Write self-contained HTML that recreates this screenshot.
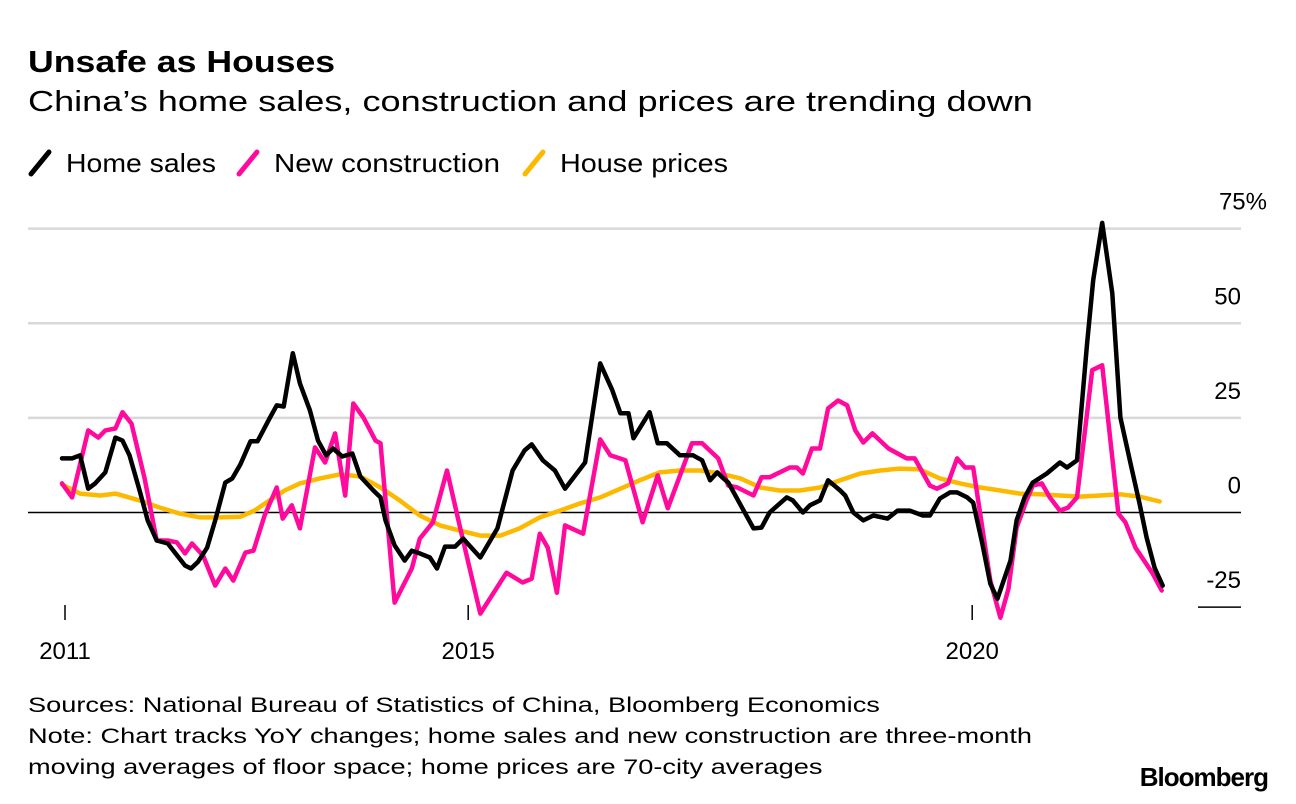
<!DOCTYPE html>
<html><head><meta charset="utf-8">
<style>
body{margin:0;background:#fff;font-family:"Liberation Sans",Arial,sans-serif;}
#wrap{position:relative;width:1296px;height:804px;overflow:hidden;}
.t{position:absolute;white-space:nowrap;color:#000;transform-origin:0 0;}
</style></head><body>
<div id="wrap">
<div class="t" style="left:28px;top:44px;font-size:31px;font-weight:bold;transform:scaleX(1.15);">Unsafe as Houses</div>
<div class="t" style="left:28px;top:86px;font-size:29px;transform:scaleX(1.245);">China’s home sales, construction and prices are trending down</div>
<svg width="1296" height="804" style="position:absolute;left:0;top:0" id="svg"></svg>
<div class="t" style="left:28px;top:690px;font-size:21px;line-height:31px;transform:scaleX(1.294);">Sources: National Bureau of Statistics of China, Bloomberg Economics<br>Note: Chart tracks YoY changes; home sales and new construction are three-month<br>moving averages of floor space; home prices are 70-city averages</div>
<div class="t" style="right:28px;top:762px;font-size:26px;font-weight:bold;letter-spacing:-1px;">Bloomberg</div>
</div>
<script>
const yTicks=[75,50,25,0,-25];
const yTickLabels=["75%","50","25","0","-25"];
const xTicks=[2011,2015,2020];
const salesDates=[2010.97,2011.07,2011.15,2011.23,2011.30,2011.40,2011.50,2011.57,2011.64,2011.74,2011.82,2011.91,2012.02,2012.09,2012.19,2012.25,2012.32,2012.41,2012.49,2012.59,2012.66,2012.74,2012.84,2012.91,2013.03,2013.10,2013.17,2013.26,2013.33,2013.43,2013.51,2013.59,2013.66,2013.75,2013.85,2013.93,2014.06,2014.13,2014.18,2014.27,2014.37,2014.44,2014.52,2014.62,2014.69,2014.77,2014.87,2014.95,2015.12,2015.29,2015.44,2015.56,2015.63,2015.74,2015.86,2015.96,2016.16,2016.31,2016.43,2016.51,2016.59,2016.64,2016.80,2016.88,2016.97,2017.10,2017.23,2017.32,2017.40,2017.47,2017.52,2017.58,2017.72,2017.83,2017.91,2017.99,2018.16,2018.22,2018.32,2018.39,2018.49,2018.57,2018.69,2018.74,2018.82,2018.92,2019.02,2019.16,2019.26,2019.38,2019.51,2019.58,2019.68,2019.78,2019.85,2019.95,2020.01,2020.10,2020.18,2020.25,2020.38,2020.44,2020.52,2020.60,2020.74,2020.87,2020.94,2021.04,2021.14,2021.20,2021.29,2021.39,2021.47,2021.57,2021.66,2021.73,2021.81,2021.89];
const salesValues=[14.3,14.3,15.1,6.3,7.7,10.6,19.8,19.0,15.1,5.8,-2.1,-7.4,-8.2,-10.6,-14.0,-14.8,-13.0,-9.3,-2.1,7.9,9.0,12.7,18.8,18.8,24.9,28.3,28.0,42.1,34.1,27.0,19.0,15.1,16.9,14.8,15.6,9.5,5.8,4.0,-2.1,-8.7,-12.7,-10.1,-10.8,-11.9,-14.8,-9.0,-9.0,-6.9,-11.9,-4.2,11.1,16.4,18.0,13.8,11.1,6.3,13.2,39.4,32.3,26.2,26.2,19.6,26.5,18.3,18.3,15.1,15.1,13.8,8.5,10.6,9.3,7.9,1.1,-4.2,-4.0,0,4.0,3.2,0,1.9,3.2,8.5,5.8,4.5,0,-2.1,-0.8,-1.6,0.5,0.5,-0.8,-0.8,3.7,5.3,5.3,4.0,2.6,-8.2,-18.8,-22.8,-12.7,-2.1,4.0,7.9,10.3,13.2,11.9,13.8,44.7,61.4,76.5,57.9,25.1,13.0,2.4,-6.6,-14.6,-19.3];
const constDates=[2010.97,2011.07,2011.23,2011.33,2011.40,2011.50,2011.57,2011.66,2011.79,2011.91,2012.02,2012.11,2012.19,2012.26,2012.37,2012.49,2012.59,2012.67,2012.79,2012.87,2012.98,2013.10,2013.16,2013.25,2013.33,2013.48,2013.58,2013.68,2013.78,2013.86,2013.96,2014.08,2014.13,2014.27,2014.44,2014.52,2014.65,2014.79,2014.92,2015.12,2015.38,2015.54,2015.63,2015.71,2015.79,2015.88,2015.96,2016.14,2016.31,2016.41,2016.56,2016.73,2016.88,2016.98,2017.22,2017.32,2017.48,2017.58,2017.67,2017.83,2017.91,2017.99,2018.19,2018.26,2018.32,2018.41,2018.49,2018.57,2018.67,2018.76,2018.84,2018.92,2019.01,2019.17,2019.26,2019.35,2019.43,2019.58,2019.65,2019.76,2019.85,2019.93,2020.01,2020.18,2020.28,2020.36,2020.44,2020.54,2020.60,2020.69,2020.77,2020.87,2020.95,2021.04,2021.19,2021.29,2021.45,2021.52,2021.62,2021.79,2021.88];
const constValues=[7.7,4.0,21.7,19.8,21.7,22.2,26.5,23.5,9.0,-7.4,-7.4,-7.9,-10.8,-8.2,-11.4,-19.3,-14.8,-18.0,-10.6,-10.1,-0.8,6.6,-1.6,1.9,-4.2,17.2,13.2,20.9,4.5,28.8,25.1,19.0,18.3,-23.8,-14.8,-6.9,-2.6,11.1,-4.0,-26.7,-15.9,-18.5,-17.5,-5.6,-9.3,-21.2,-3.4,-5.6,19.3,15.1,13.8,-2.6,9.8,1.1,18.3,18.3,14.3,7.1,6.6,4.5,9.3,9.3,11.9,11.9,10.3,16.9,16.9,27.5,29.6,28.3,21.7,18.5,20.9,16.9,15.6,14.3,14.3,7.1,6.3,7.7,14.3,11.9,11.9,-18.0,-27.8,-20.1,-4.0,3.2,7.1,7.7,4.0,0.5,1.3,4.0,37.6,38.9,-0.3,-2.6,-9.3,-16.1,-20.6];
const priceDates=[2010.97,2011.15,2011.35,2011.50,2011.74,2011.94,2012.14,2012.34,2012.54,2012.74,2012.88,2013.03,2013.18,2013.33,2013.53,2013.73,2013.93,2014.13,2014.32,2014.52,2014.72,2014.92,2015.12,2015.32,2015.51,2015.71,2015.91,2016.11,2016.31,2016.51,2016.70,2016.90,2017.10,2017.30,2017.50,2017.70,2017.90,2018.09,2018.29,2018.49,2018.69,2018.89,2019.09,2019.28,2019.48,2019.68,2019.88,2020.08,2020.28,2020.47,2020.67,2020.87,2021.07,2021.27,2021.47,2021.66,2021.86];
const priceValues=[7.4,5.0,4.5,5.0,3.2,1.3,-0.3,-1.3,-1.3,-1.1,0.5,3.2,5.8,7.7,9.0,10.1,9.5,6.6,3.2,-0.8,-3.4,-4.8,-6.1,-6.1,-4.2,-1.3,0.5,2.4,4.0,6.3,8.5,10.6,11.1,11.1,10.3,9.0,6.6,5.8,5.8,6.6,8.5,10.3,11.1,11.6,11.4,9.0,7.7,6.6,5.8,5.0,4.8,4.5,4.2,4.5,4.8,4.2,2.9];

const NS="http://www.w3.org/2000/svg";
const svg=document.getElementById('svg');
const xs=d=>65+(d-2011)*100.8;
const ys=v=>512.5-v*3.785;
function mk(tag,attrs){const e=document.createElementNS(NS,tag);for(const k in attrs)e.setAttribute(k,attrs[k]);svg.appendChild(e);return e;}
yTicks.forEach((v,i)=>{
  const y=ys(v);
  const x1=v===-25?1198:28;
  const l=mk('line',{x1:x1,x2:1241,y1:y,y2:y,stroke:v===0||v===-25?'#000':'#d9d9d9','stroke-width':v===0||v===-25?1.5:2.5});
  
  
  const t=mk('text',{x:v===75?1267:1241,y:y-19,'text-anchor':'end','font-size':24,'font-family':'Liberation Sans, sans-serif',fill:'#000'});
  t.textContent=yTickLabels[i];
  
  
});
xTicks.forEach(yr=>{
  const x=xs(yr);
  const tk=mk('line',{x1:x,x2:x,y1:605,y2:620,stroke:'#000','stroke-width':1.5});
  
  
  const t=mk('text',{x:x,y:659,'text-anchor':'middle','font-size':24,'font-family':'Liberation Sans, sans-serif',fill:'#000'});
  t.textContent=yr;
  
  
});
function series(dates,vals,color,name){
  const p=mk('polyline',{points:dates.map((d,i)=>xs(d).toFixed(1)+','+ys(vals[i]).toFixed(1)).join(' '),fill:'none',stroke:color,'stroke-width':4.5,'stroke-linejoin':'round','stroke-linecap':'round'});
  
  
}
series(priceDates,priceValues,'#fcb900','house-prices-line');
series(constDates,constValues,'#ff0a9c','new-construction-line');
series(salesDates,salesValues,'#000','home-sales-line');
const legend=[['Home sales','#000',28,66,150],['New construction','#ff0a9c',236,274,226],['House prices','#fcb900',522,560,168]];
legend.forEach(([lab,c,x,tx,w])=>{
  const s=mk('line',{x1:x+3,y1:174,x2:x+21,y2:152,stroke:c,'stroke-width':5,'stroke-linecap':'round'});
  
  
  const t=mk('text',{x:tx,y:172,'font-size':26,'font-family':'Liberation Sans, sans-serif',fill:'#000',textLength:w,lengthAdjust:'spacingAndGlyphs'});
  t.textContent=lab;
  
  
});
</script>
</body></html>
